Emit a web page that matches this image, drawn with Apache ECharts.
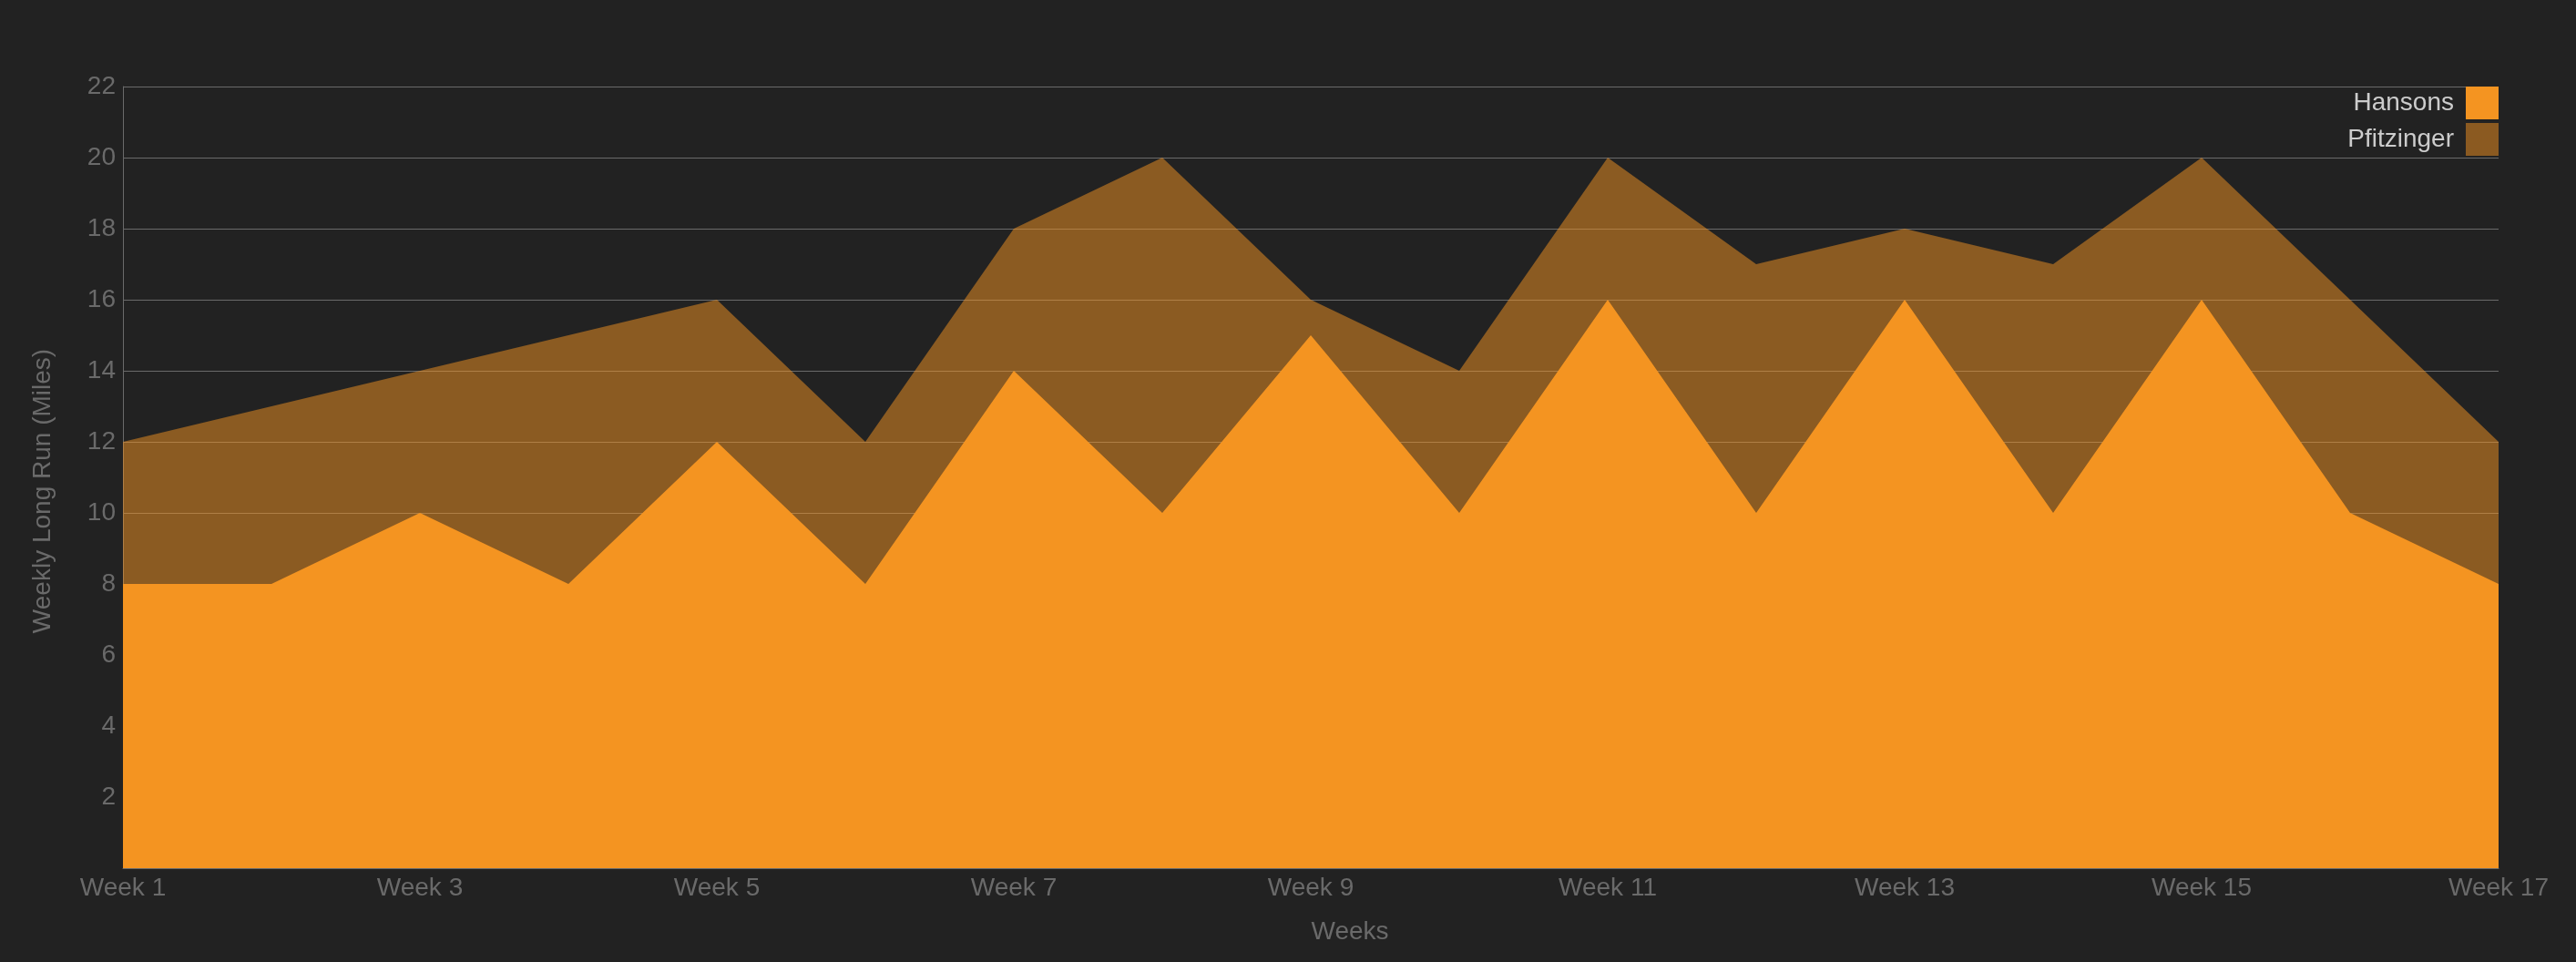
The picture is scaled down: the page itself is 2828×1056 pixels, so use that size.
<!DOCTYPE html>
<html>
<head>
<meta charset="utf-8">
<script src="https://cdn.jsdelivr.net/npm/echarts@6/dist/echarts.min.js"></script>
<style>
html,body{margin:0;padding:0;background:#222222;}
#chart{width:2828px;height:1056px;}
</style>
</head>
<body>
<div id="chart"></div>
<script>
const weeks = ['Week 1','Week 2','Week 3','Week 4','Week 5','Week 6','Week 7','Week 8','Week 9','Week 10','Week 11','Week 12','Week 13','Week 14','Week 15','Week 16','Week 17'];
const hansons = [8, 8, 10, 8, 12, 8, 14, 10, 15, 10, 16, 10, 16, 10, 16, 10, 8];
const pfitzinger = [12, 13, 14, 15, 16, 12, 18, 20, 16, 14, 20, 17, 18, 17, 20, 16, 12];
const yMin = 0, yMax = 22, yStep = 2;

const ORANGE = '#F49421';
const BROWN = '#8B5A21';
const AXIS_GRAY = '#6a6a6a';
const FONT = '"Liberation Sans", Arial, Helvetica, sans-serif';

const chart = echarts.init(document.getElementById('chart'), null, {renderer: 'canvas'});
chart.setOption({
  backgroundColor: '#222222',
  animation: false,
  textStyle: {fontFamily: FONT},
  grid: {left: 135, right: 85, top: 95, bottom: 103, containLabel: false},
  legend: {
    orient: 'vertical',
    right: 85,
    top: 95,
    padding: 0,
    align: 'right',
    itemWidth: 36,
    itemHeight: 36,
    itemGap: 4,
    icon: 'rect',
    textStyle: {color: '#cccccc', fontSize: 28, fontFamily: FONT, padding: [0, 8, 0, 0]},
    data: [
      {name: 'Hansons', itemStyle: {color: ORANGE}},
      {name: 'Pfitzinger', itemStyle: {color: BROWN}}
    ]
  },
  xAxis: {
    type: 'category',
    data: weeks,
    boundaryGap: false,
    name: 'Weeks',
    nameLocation: 'middle',
    nameGap: 56,
    nameTextStyle: {color: AXIS_GRAY, fontSize: 28, fontFamily: FONT, padding: [0, 0, 0, 86]},
    axisLine: {show: true, lineStyle: {color: AXIS_GRAY, width: 1}},
    axisTick: {show: false},
    axisLabel: {interval: 1, color: AXIS_GRAY, fontSize: 28, fontFamily: FONT, margin: 8},
    splitLine: {show: false},
    z: 10
  },
  yAxis: {
    type: 'value',
    min: yMin,
    max: yMax,
    interval: yStep,
    name: 'Weekly Long Run (Miles)',
    nameLocation: 'middle',
    nameGap: 74,
    nameTextStyle: {color: AXIS_GRAY, fontSize: 28, fontFamily: FONT, padding: [0, 30, 0, 0]},
    axisLine: {show: true, lineStyle: {color: AXIS_GRAY, width: 1}},
    axisTick: {show: false},
    axisLabel: {color: AXIS_GRAY, fontSize: 28, fontFamily: FONT, margin: 8,
      formatter: v => v === 0 ? '' : String(v)},
    splitLine: {show: true, lineStyle: {color: AXIS_GRAY, width: 1}}
  },
  series: [
    {
      name: 'Pfitzinger',
      type: 'line',
      data: pfitzinger,
      symbol: 'none',
      lineStyle: {width: 0, color: BROWN},
      itemStyle: {color: BROWN},
      areaStyle: {color: ORANGE, opacity: 0.5},
      z: 2
    },
    {
      name: 'Hansons',
      type: 'line',
      data: hansons,
      symbol: 'none',
      lineStyle: {width: 0, color: ORANGE},
      itemStyle: {color: ORANGE},
      areaStyle: {color: ORANGE, opacity: 1},
      z: 3
    }
  ]
});
</script>
</body>
</html>
